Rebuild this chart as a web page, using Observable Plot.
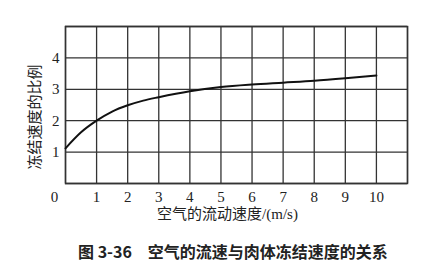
<!DOCTYPE html>
<html>
<head>
<meta charset="utf-8">
<script src="https://cdn.jsdelivr.net/npm/d3@7"></script>
<script src="https://cdn.jsdelivr.net/npm/@observablehq/plot@0.6"></script>
<style>
  html, body { margin: 0; padding: 0; background: #fff; }
  #chart { width: 425px; }
  .cap { font-family: "Noto Sans CJK SC", sans-serif; font-size: 16px; font-weight: 600; color: #222;
         white-space: pre; margin-left: 78px; margin-top: 9px; line-height: 20px; }
</style>
</head>
<body>
<div id="chart"></div>
<script>
const speed = [0, 0.5, 1, 1.5, 2, 2.5, 3, 4, 5, 6, 7, 8, 9, 10];
const ratio = [1.12, 1.63, 2.0, 2.29, 2.49, 2.64, 2.75, 2.94, 3.07, 3.15, 3.21, 3.27, 3.35, 3.44];
const xTicks = [1, 2, 3, 4, 5, 6, 7, 8, 9, 10];
const xGrid = [0, 1, 2, 3, 4, 5, 6, 7, 8, 9, 10, 11];
const yTicks = [1, 2, 3, 4];
const yGrid = [0, 1, 2, 3, 4, 5];
const xTitle = "空气的流动速度/(m/s)";
const yTitle = "冻结速度的比例";
const caption = "图 3-36\u3000空气的流速与肉体冻结速度的关系";

const data = speed.map((s, i) => ({speed: s, ratio: ratio[i]}));
const serif = "'Liberation Serif', 'Noto Sans CJK SC', serif";
const ink = "#222";

const plot = Plot.plot({
  width: 425,
  height: 232,
  marginLeft: 65,
  marginRight: 18,
  marginTop: 26,
  marginBottom: 49,
  x: {domain: [0, 11]},
  y: {domain: [0, 5]},
  style: {background: "#fff", color: ink},
  marks: [
    Plot.gridX(xGrid, {stroke: "#333", strokeOpacity: 1, strokeWidth: 1.3}),
    Plot.gridY(yGrid, {stroke: "#333", strokeOpacity: 1, strokeWidth: 1.3}),
    Plot.frame({stroke: "#333", strokeWidth: 1.5}),
    Plot.axisY({ticks: yTicks, tickFormat: d3.format("d"), tickSize: 0, tickPadding: 6, fontFamily: serif, fontSize: 15, label: null}),
    Plot.text([yTitle], {frameAnchor: "left", rotate: -90, dx: -30, dy: 12, textAnchor: "middle", fontFamily: serif, fontSize: 15, fill: ink}),
    Plot.axisX({ticks: xTicks, tickFormat: d3.format("d"), tickSize: 0, tickPadding: 8, fontFamily: serif, fontSize: 15, label: null}),
    Plot.axisX({ticks: [0], tickFormat: d3.format("d"), tickSize: 0, tickPadding: 8, dx: -11, fontFamily: serif, fontSize: 15, label: null}),
    Plot.text([xTitle], {frameAnchor: "bottom", dx: -9, dy: 31, textAnchor: "middle", lineAnchor: "middle", fontFamily: serif, fontSize: 15, fill: ink}),
    Plot.line(data, {x: "speed", y: "ratio", curve: "monotone-x", stroke: "#111", strokeWidth: 2})
  ]
});
document.getElementById("chart").appendChild(plot);
const cap = document.createElement("div");
cap.className = "cap";
cap.textContent = caption;
document.body.appendChild(cap);
</script>
</body>
</html>
